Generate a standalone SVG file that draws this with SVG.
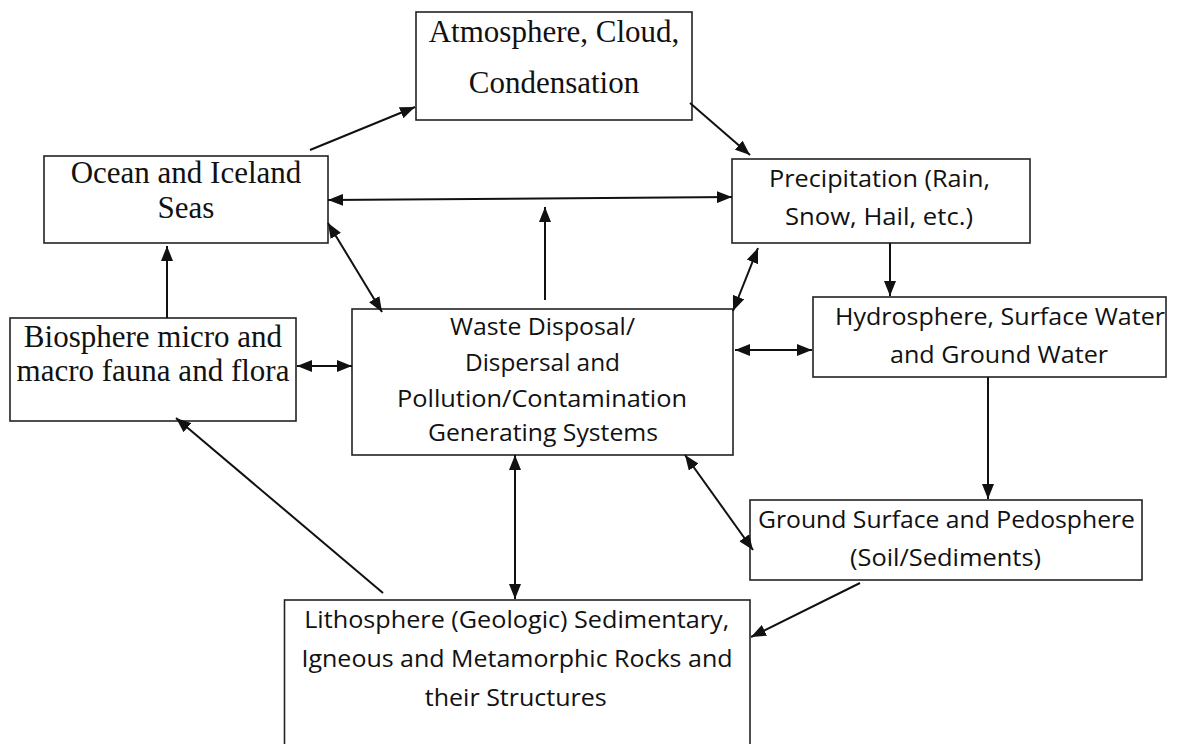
<svg xmlns="http://www.w3.org/2000/svg" width="1182" height="744" viewBox="0 0 1182 744">
<style>
.box{fill:#fff;stroke:#222;stroke-width:1.6}
.serif{font-family:"Liberation Serif","Times New Roman",serif;font-size:31px;fill:#111;text-anchor:middle}
.sans{font-family:"Open Sans","Liberation Sans",sans-serif;font-size:24px;fill:#111;text-anchor:middle}
.c{stroke:#111;stroke-width:2;fill:none}
</style>
<defs>
<marker id="ah" markerUnits="userSpaceOnUse" markerWidth="16" markerHeight="12" refX="15" refY="6" orient="auto-start-reverse" viewBox="0 0 16 12">
<path d="M0,0 L15,6 L0,12 z" fill="#111"/>
</marker>
</defs>
<rect width="1182" height="744" fill="#fff"/>
<g id="atmosphere">
<rect class="box" x="416" y="12" width="276" height="108"/>
<text class="serif" x="554" y="42">Atmosphere, Cloud,</text>
<text class="serif" x="554" y="93">Condensation</text>
</g>
<g id="ocean">
<rect class="box" x="44" y="156" width="284" height="87"/>
<text class="serif" x="186" y="183">Ocean and Iceland</text>
<text class="serif" x="186" y="218">Seas</text>
</g>
<g id="precipitation">
<rect class="box" x="732" y="159" width="298" height="84"/>
<text class="sans" x="879.5" y="187" textLength="221" lengthAdjust="spacingAndGlyphs">Precipitation (Rain,</text>
<text class="sans" x="879" y="225" textLength="188" lengthAdjust="spacingAndGlyphs">Snow, Hail, etc.)</text>
</g>
<g id="biosphere">
<rect class="box" x="10" y="318" width="286" height="103"/>
<text class="serif" x="153" y="347">Biosphere micro and</text>
<text class="serif" x="153" y="381">macro fauna and flora</text>
</g>
<g id="waste">
<rect class="box" x="352" y="309" width="381" height="146"/>
<text class="sans" x="542.5" y="335" textLength="185" lengthAdjust="spacingAndGlyphs">Waste Disposal/</text>
<text class="sans" x="542.5" y="371" textLength="155" lengthAdjust="spacingAndGlyphs">Dispersal and</text>
<text class="sans" x="542" y="407" textLength="290" lengthAdjust="spacingAndGlyphs">Pollution/Contamination</text>
<text class="sans" x="543" y="441" textLength="230" lengthAdjust="spacingAndGlyphs">Generating Systems</text>
</g>
<g id="hydrosphere">
<rect class="box" x="813" y="297" width="353" height="80"/>
<text class="sans" x="1000" y="325" textLength="330" lengthAdjust="spacingAndGlyphs">Hydrosphere, Surface Water</text>
<text class="sans" x="999" y="363" textLength="218" lengthAdjust="spacingAndGlyphs">and Ground Water</text>
</g>
<g id="ground">
<rect class="box" x="750" y="500" width="392" height="80"/>
<text class="sans" x="946.5" y="528" textLength="377" lengthAdjust="spacingAndGlyphs">Ground Surface and Pedosphere</text>
<text class="sans" x="945.5" y="566" textLength="191" lengthAdjust="spacingAndGlyphs">(Soil/Sediments)</text>
</g>
<g id="lithosphere">
<rect class="box" x="284.5" y="600" width="465.5" height="160"/>
<text class="sans" x="516.7" y="628" textLength="425" lengthAdjust="spacingAndGlyphs">Lithosphere (Geologic) Sedimentary,</text>
<text class="sans" x="517" y="667" textLength="431" lengthAdjust="spacingAndGlyphs">Igneous and Metamorphic Rocks and</text>
<text class="sans" x="515.8" y="706" textLength="182" lengthAdjust="spacingAndGlyphs">their Structures</text>
</g>
<g id="connectors">
<line class="c" x1="310" y1="150" x2="415" y2="107" marker-end="url(#ah)"/>
<line class="c" x1="690" y1="103" x2="750" y2="155" marker-end="url(#ah)"/>
<line class="c" x1="328" y1="200" x2="732" y2="197" marker-start="url(#ah)" marker-end="url(#ah)"/>
<line class="c" x1="545" y1="300" x2="545" y2="207" marker-end="url(#ah)"/>
<line class="c" x1="167" y1="318" x2="167" y2="246" marker-end="url(#ah)"/>
<line class="c" x1="297" y1="366" x2="352" y2="366" marker-start="url(#ah)" marker-end="url(#ah)"/>
<line class="c" x1="328" y1="223" x2="382" y2="312" marker-start="url(#ah)" marker-end="url(#ah)"/>
<line class="c" x1="733" y1="311" x2="758" y2="248" marker-start="url(#ah)" marker-end="url(#ah)"/>
<line class="c" x1="890" y1="243" x2="890" y2="296" marker-end="url(#ah)"/>
<line class="c" x1="735" y1="350" x2="812" y2="350" marker-start="url(#ah)" marker-end="url(#ah)"/>
<line class="c" x1="988" y1="377" x2="988" y2="499" marker-end="url(#ah)"/>
<line class="c" x1="685" y1="455" x2="753" y2="550" marker-start="url(#ah)" marker-end="url(#ah)"/>
<line class="c" x1="860" y1="583" x2="751" y2="637" marker-end="url(#ah)"/>
<line class="c" x1="383" y1="593" x2="176" y2="418" marker-end="url(#ah)"/>
<line class="c" x1="515" y1="455" x2="515" y2="599" marker-start="url(#ah)" marker-end="url(#ah)"/>
</g>
</svg>
